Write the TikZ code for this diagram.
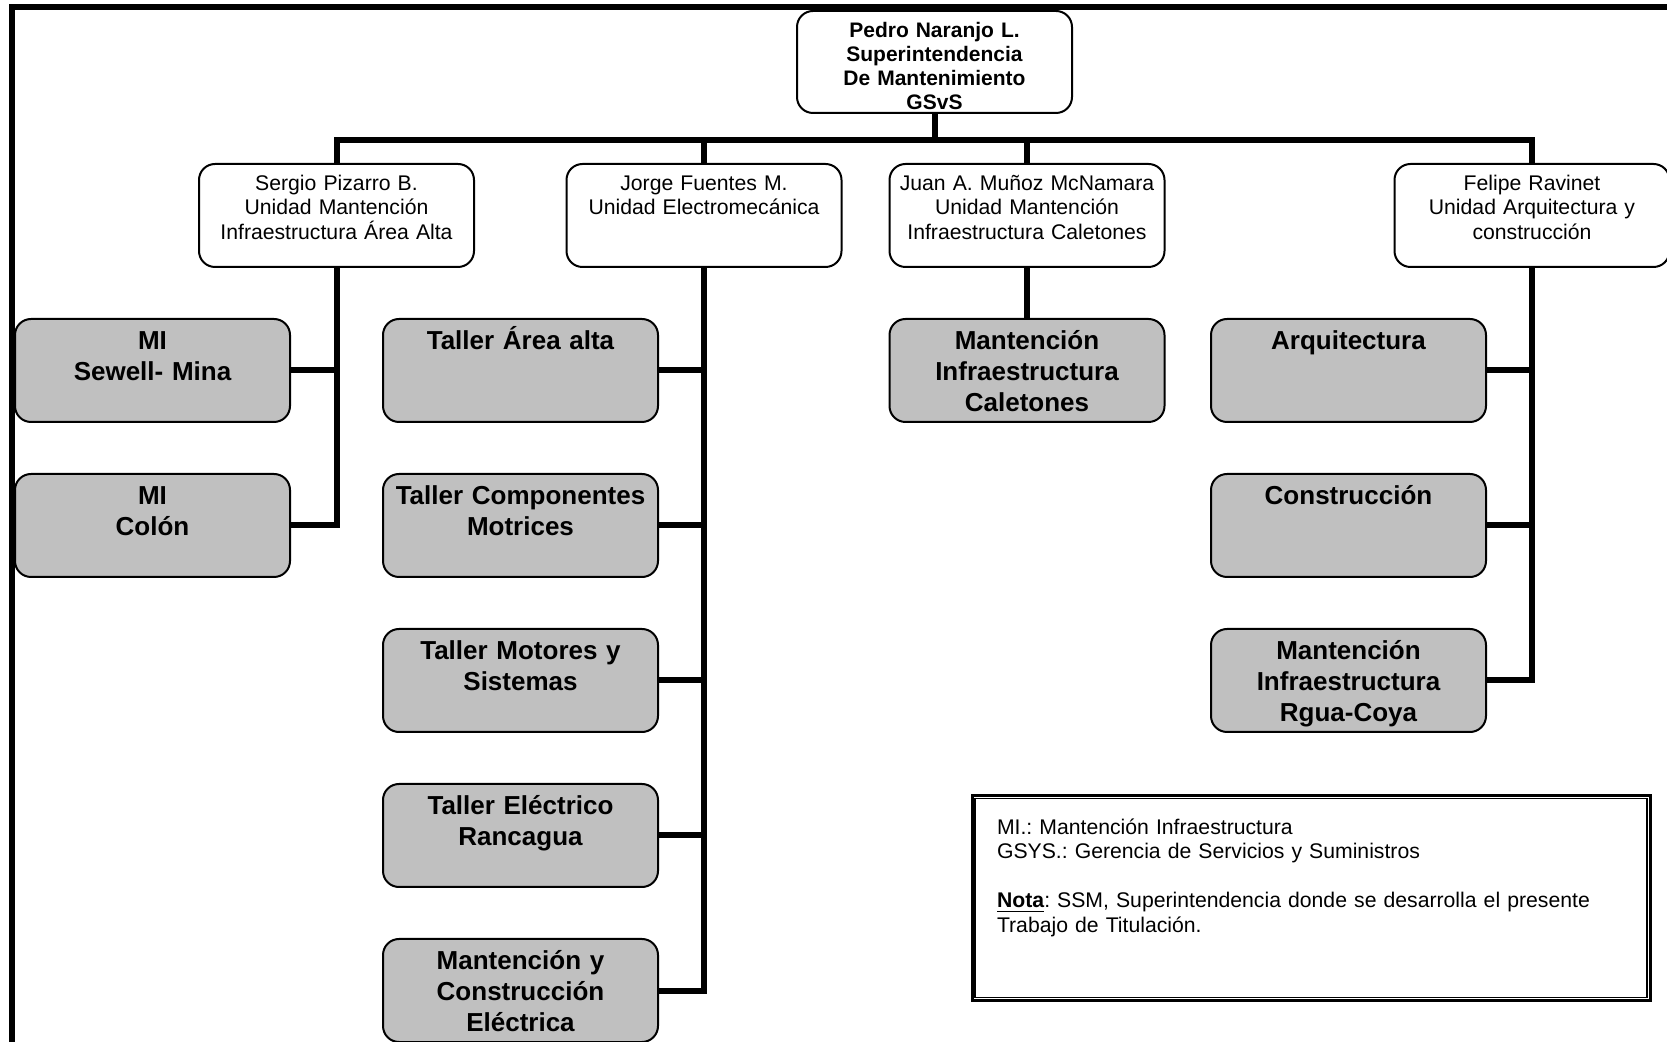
\documentclass[tikz,border=0pt]{standalone}
\usepackage{fontspec}
\setmainfont{Liberation Sans}
\usetikzlibrary{positioning}
\definecolor{gris}{RGB}{192,192,192}
\frenchspacing

\begin{document}
\begin{tikzpicture}[x=0.5pt ,y=-0.5pt ,on grid ,
linea/.style ={line width =3pt} ,
jefe/.style ={draw ,fill=white ,line width =1pt ,rounded corners =8pt ,
text width =133pt ,inner xsep =2.25pt ,inner ysep =3pt ,align=center ,
font=\bfseries\fontsize{10.5}{12}\selectfont ,text height =10.5pt ,text depth =34.5pt} ,
unidad/.style ={jefe ,font=\fontsize{10.6}{12.25}\selectfont ,text height =10.25pt ,text depth =35.25pt} ,
taller/.style ={jefe ,fill=gris ,font=\bfseries\fontsize{13}{15.5}\selectfont ,text height =12.5pt ,text depth =33pt}]
\useasboundingbox (0,0) rectangle (1667,1042);
\draw[linea] (12,1042) -- (12,7) -- (1667,7);
\node[jefe] (pedro) at (934.5,62) {Pedro Naranjo L.\\Superintendencia\\De Mantenimiento\\GSvS};
\node[unidad] (sergio) [below left = 76.75pt and 299pt of pedro] {Sergio Pizarro B.\\Unidad Mantención\\Infraestructura Área Alta};
\node[unidad] (jorge) [below left = 76.75pt and 115.25pt of pedro] {Jorge Fuentes M.\\Unidad Electromecánica};
\node[unidad] (juan) [below right = 76.75pt and 46.25pt of pedro] {Juan A. Muñoz McNamara\\Unidad Mantención\\Infraestructura Caletones};
\node[unidad] (felipe) [below right = 76.75pt and 298.75pt of pedro] {Felipe Ravinet\\Unidad Arquitectura y\\construcción};
\coordinate [below = 13pt of pedro.south] (bus);
\draw[linea] (pedro) -- (bus);
\draw[linea] (sergio) |- (bus) -| (felipe);
\draw[linea] (jorge) -- (jorge |- bus);
\draw[linea] (juan) -- (juan |- bus);
\node[taller] (mi1) [below left = 77.5pt and 92pt of sergio] {MI\\Sewell- Mina};
\node[taller] (mi2) [below = 77.5pt of mi1] {MI\\Colón};
\node[taller] (t1) [below left = 77.5pt and 91.75pt of jorge] {Taller Área alta};
\node[taller] (t2) [below = 77.5pt of t1] {Taller Componentes\\Motrices};
\node[taller] (t3) [below = 77.5pt of t2] {Taller Motores y\\Sistemas};
\node[taller] (t4) [below = 77.5pt of t3] {Taller Eléctrico\\Rancagua};
\node[taller] (t5) [below = 77.5pt of t4] {Mantención y\\Construcción\\Eléctrica};
\node[taller] (mcal) [below = 77.5pt of juan] {Mantención\\Infraestructura\\Caletones};
\node[taller] (arq) [below left = 77.5pt and 91.75pt of felipe] {Arquitectura};
\node[taller] (cons) [below = 77.5pt of arq] {Construcción};
\node[taller] (rgua) [below = 77.5pt of cons] {Mantención\\Infraestructura\\Rgua-Coya};
\draw[linea] (sergio) |- (mi2);
\draw[linea] (mi1) -- (mi1 -| sergio);
\draw[linea] (jorge) |- (t5);
\draw[linea] (t1) -- (t1 -| jorge);
\draw[linea] (t2) -- (t2 -| jorge);
\draw[linea] (t3) -- (t3 -| jorge);
\draw[linea] (t4) -- (t4 -| jorge);
\draw[linea] (juan) -- (mcal);
\draw[linea] (felipe) |- (rgua);
\draw[linea] (arq) -- (arq -| felipe);
\draw[linea] (cons) -- (cons -| felipe);
\node[draw ,line width =1.5pt ,text width =314pt ,inner xsep =12.5pt ,inner ysep =10.5pt ,
text height =9pt ,text depth =72.5pt ,align=left ,font=\fontsize{10.6}{12.25}\selectfont] (nota) at (1311,898)
{MI.: Mantención Infraestructura\\GSYS.: Gerencia de Servicios y Suministros\\[12.25pt]\underline{\textbf{Nota}}: SSM, Superintendencia donde se desarrolla el presente\\Trabajo de Titulación.};
\draw[line width =0.7pt] ([shift={(2.2pt,2.2pt)}]nota.south west) rectangle ([shift={(-2.2pt,-2.2pt)}]nota.north east);
\end{tikzpicture}
\end{document}
